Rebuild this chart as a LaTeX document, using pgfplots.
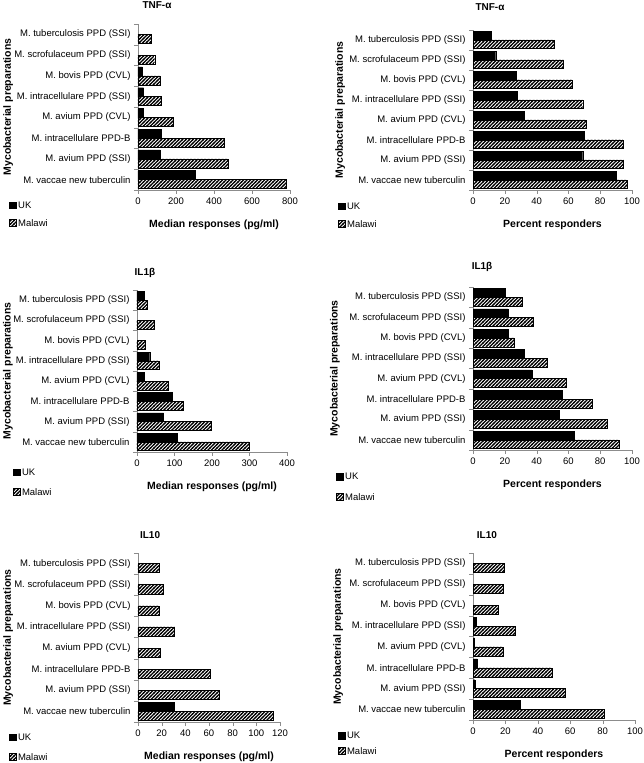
\documentclass[border=0pt]{standalone}
\usepackage{fontspec}
\setmainfont{Liberation Sans}
\usepackage{pgfplots}
\pgfplotsset{compat=1.18}
\usetikzlibrary{patterns}
\pgfdeclarepatternformonly{mystripes}{\pgfqpoint{-1pt}{-1pt}}{\pgfqpoint{4.5pt}{4.5pt}}{\pgfqpoint{3.5pt}{3.5pt}}{%
  \pgfsetlinewidth{1.3pt}%
  \pgfpathmoveto{\pgfqpoint{-0.5pt}{-0.5pt}}%
  \pgfpathlineto{\pgfqpoint{4pt}{4pt}}%
  \pgfusepath{stroke}%
}
\definecolor{axgray}{RGB}{140,140,140}
\pgfplotsset{
  panel/.style={
    scale only axis, xbar, bar width=0.43,
    ymin=-0.5, ymax=7.5,
    ytick={0,...,7},
    yticklabels={M. vaccae new tuberculin, M. avium PPD (SSI), M. intracellulare PPD-B, M. avium PPD (CVL), M. intracellulare PPD (SSI), M. bovis PPD (CVL), M. scrofulaceum PPD (SSI), M. tuberculosis PPD (SSI)},
    minor ytick={-0.5,0.5,...,7.5},
    major y tick style={draw=none},
    axis x line*=bottom, axis y line*=left,
    axis line style={axgray,-},
    tick style={axgray},
    tick align=outside,
    major tick length=4pt, minor tick length=4pt,
    ticklabel style={font=\fontsize{9.5}{10}\selectfont, black},
    /pgf/number format/assume math mode=true,
    every axis y label/.style={rotate=90, anchor=center, font=\bfseries\fontsize{10.5}{12}\selectfont},
    every axis x label/.style={at={(axis description cs:0.5,0)}, yshift=-35pt, anchor=center, font=\bfseries\fontsize{10.5}{12}\selectfont},
    ylabel={Mycobacterial preparations},
    legend style={draw=none, fill=none, anchor=north west, font=\fontsize{9.5}{10}\selectfont, legend cell align=left},
  },
  uk/.style={fill=black, draw=black, bar shift=0.215,
    legend image code/.code={\draw[fill=black,draw=black] (0pt,-2.5pt) rectangle (6.5pt,4pt);}},
  mw/.style={draw=black, pattern=mystripes, pattern color=black, bar shift=-0.215,
    legend image code/.code={\draw[draw=black, pattern=mystripes] (0pt,-2.5pt) rectangle (6.5pt,4pt);}},
}
\begin{document}
\begin{tikzpicture}
\path[use as bounding box] (0,0) rectangle (644pt,763pt);

% Panel 1: TNF median
\begin{axis}[panel, at={(138pt,573pt)}, anchor=south west, width=152pt, height=166pt,
  xmin=0, xmax=800, xtick={0,200,...,800},
  title={TNF-α},
  every axis title/.style={at={(axis description cs:0.125,1)}, yshift=19pt, anchor=center, font=\bfseries\fontsize{10}{12}\selectfont},
  every axis y label/.append style={at={(axis description cs:-0.855,0.5)}},
  xlabel={Median responses (pg/ml)},
  legend style={at={(axis description cs:-0.868,-0.048)}, row sep=5pt}]
\addplot[uk] coordinates {(300,0) (118,1) (123,2) (30,3) (30,4) (23,5)};
\addplot[mw] coordinates {(778,0) (475,1) (452,2) (185,3) (123,4) (118,5) (88,6) (70,7)};
\legend{UK, Malawi}
\end{axis}

% Panel 2: TNF percent
\begin{axis}[panel, at={(473pt,573pt)}, anchor=south west, width=159pt, height=160pt,
  xmin=0, xmax=100, xtick={0,20,...,100},
  title={TNF-α},
  every axis title/.style={at={(axis description cs:0.107,1)}, yshift=23pt, anchor=center, font=\bfseries\fontsize{10}{12}\selectfont},
  every axis y label/.append style={at={(axis description cs:-0.836,0.5)}},
  xlabel={Percent responders},
  legend style={at={(axis description cs:-0.868,-0.056)}, row sep=5pt}]
\addplot[uk] coordinates {(90,0) (69,1) (70,2) (32,3) (27.8,4) (27.4,5) (14.3,6) (11.6,7)};
\addplot[mw] coordinates {(96.8,0) (94.7,1) (94.3,2) (71,3) (69,4) (62.5,5) (56.8,6) (51,7)};
\legend{UK, Malawi}
\end{axis}

% Panel 3: IL1b median
\begin{axis}[panel, at={(137pt,311pt)}, anchor=south west, width=150pt, height=162pt,
  xmin=0, xmax=400, xtick={0,100,...,400},
  title={IL1β},
  every axis title/.style={at={(axis description cs:0.053,1)}, yshift=17pt, anchor=center, font=\bfseries\fontsize{10}{12}\selectfont},
  every axis y label/.append style={at={(axis description cs:-0.86,0.5)}},
  xlabel={Median responses (pg/ml)},
  legend style={at={(axis description cs:-0.847,-0.08)}, row sep=7pt}]
\addplot[uk] coordinates {(107,0) (71,1) (93,2) (20,3) (34,4) (19.6,7)};
\addplot[mw] coordinates {(300,0) (197,1) (124,2) (82,3) (60,4) (22,5) (46,6) (26.7,7)};
\legend{UK, Malawi}
\end{axis}

% Panel 4: IL1b percent
\begin{axis}[panel, at={(473pt,313pt)}, anchor=south west, width=159pt, height=163pt,
  xmin=0, xmax=100, xtick={0,20,...,100},
  title={IL1β},
  every axis title/.style={at={(axis description cs:0.057,1)}, yshift=20pt, anchor=center, font=\bfseries\fontsize{10}{12}\selectfont},
  every axis y label/.append style={at={(axis description cs:-0.868,0.5)}},
  xlabel={Percent responders},
  legend style={at={(axis description cs:-0.88,-0.117)}, row sep=8pt}]
\addplot[uk] coordinates {(63.7,0) (54,1) (56.4,2) (37,3) (32.5,4) (22,5) (22,6) (20,7)};
\addplot[mw] coordinates {(91.8,0) (84.7,1) (75,2) (58.5,3) (46.5,4) (26,5) (38,6) (31,7)};
\legend{UK, Malawi}
\end{axis}

% Panel 5: IL10 median
\begin{axis}[panel, at={(138pt,41pt)}, anchor=south west, width=142pt, height=169pt,
  xmin=0, xmax=120, xtick={0,20,...,120},
  title={IL10},
  every axis title/.style={at={(axis description cs:0.085,1)}, yshift=18pt, anchor=center, font=\bfseries\fontsize{10}{12}\selectfont},
  every axis y label/.append style={at={(axis description cs:-0.915,0.5)}},
  xlabel={Median responses (pg/ml)},
  legend style={at={(axis description cs:-0.93,-0.047)}, row sep=7pt}]
\addplot[uk] coordinates {(31,0)};
\addplot[mw] coordinates {(114,0) (69,1) (60.7,2) (19,3) (31,4) (17.8,5) (21,6) (17.8,7)};
\legend{UK, Malawi}
\end{axis}

% Panel 6: IL10 percent
\begin{axis}[panel, at={(473pt,43pt)}, anchor=south west, width=162pt, height=167pt,
  xmin=0, xmax=100, xtick={0,20,...,100},
  title={IL10},
  every axis title/.style={at={(axis description cs:0.086,1)}, yshift=18pt, anchor=center, font=\bfseries\fontsize{10}{12}\selectfont},
  every axis y label/.append style={at={(axis description cs:-0.833,0.5)}},
  xlabel={Percent responders},
  legend style={at={(axis description cs:-0.852,-0.048)}, row sep=3pt}]
\addplot[uk] coordinates {(29.3,0) (1.2,1) (2.7,2) (1,3) (2,4)};
\addplot[mw] coordinates {(81,0) (57,1) (49,2) (18.6,3) (25.8,4) (15.5,5) (18.6,6) (19.2,7)};
\legend{UK, Malawi}
\end{axis}
\end{tikzpicture}
\end{document}
